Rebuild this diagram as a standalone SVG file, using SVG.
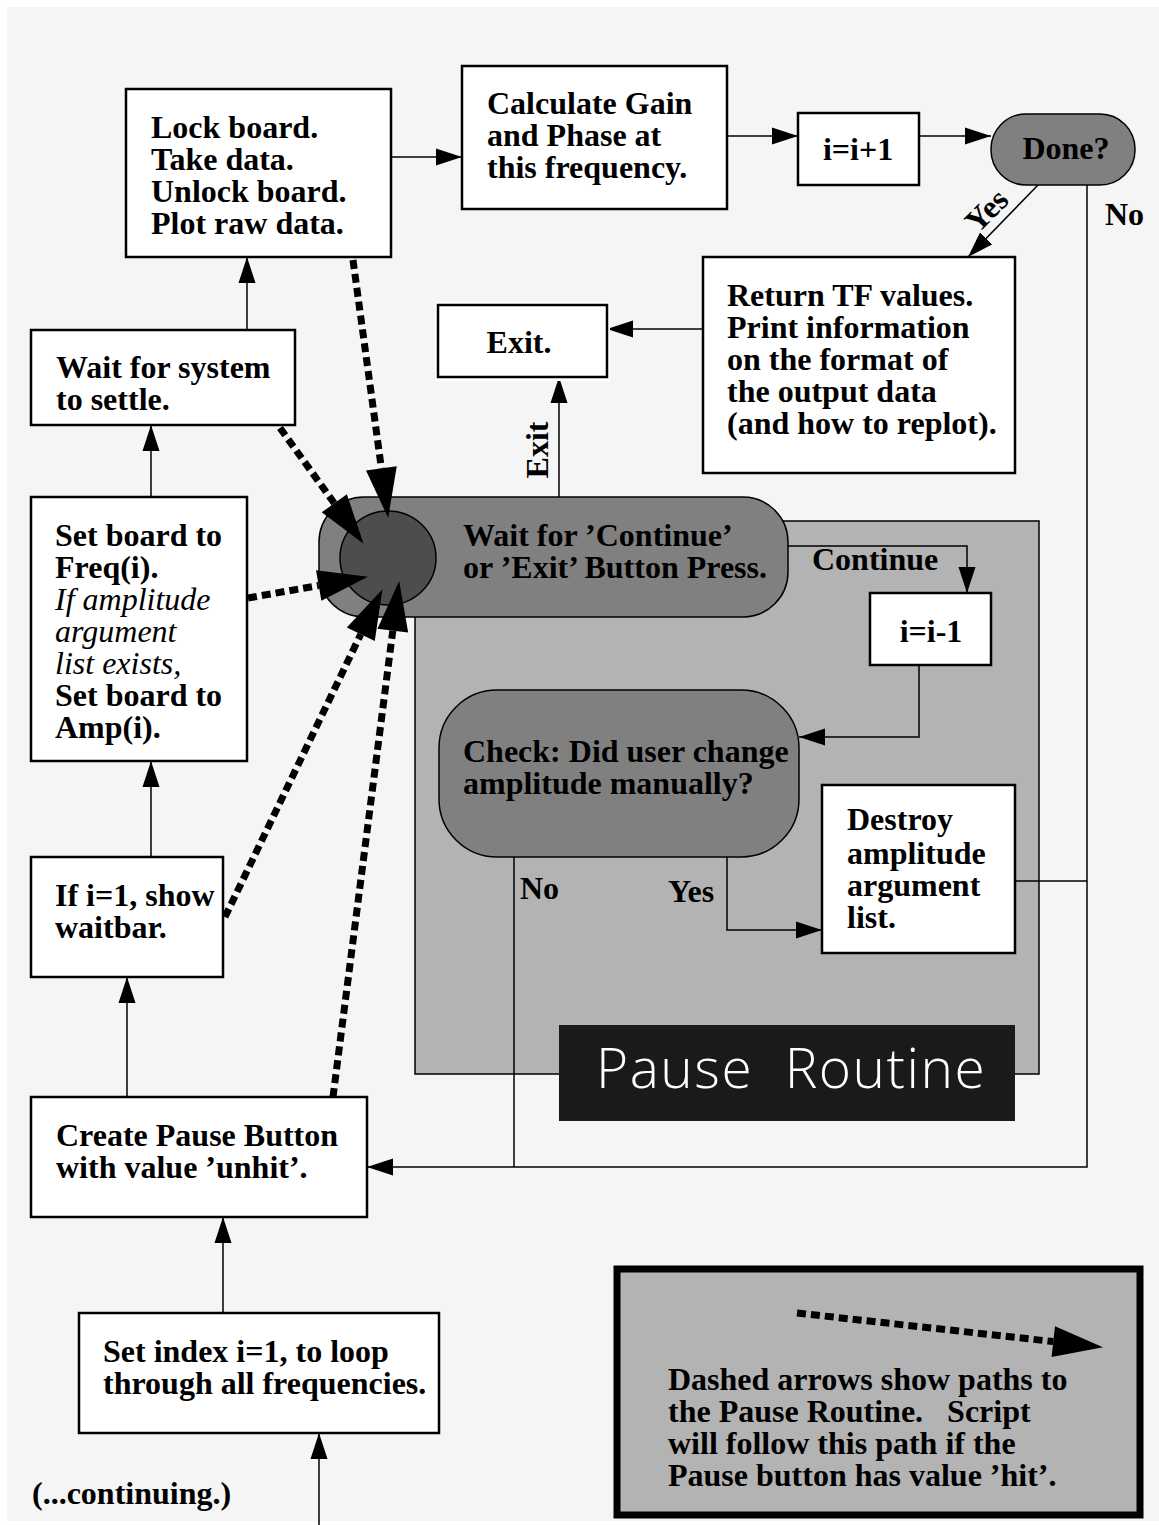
<svg xmlns="http://www.w3.org/2000/svg" width="1159" height="1525" viewBox="0 0 1159 1525">
<style>
text{font-family:"Liberation Serif","Times New Roman",serif;font-size:32px;font-weight:bold;fill:#000}
.it{font-style:italic;font-weight:normal}
.box{fill:#fff;stroke:#000;stroke-width:2.5}
.term{fill:#808080;stroke:#000;stroke-width:1.5}
.ln{fill:none;stroke:#000;stroke-width:1.5}
.dash{fill:none;stroke:#000;stroke-width:7;stroke-dasharray:9 5}
.mid{text-anchor:middle}
</style>
<defs>
<marker id="arr" viewBox="0 -9 26 18" markerWidth="26" markerHeight="18" refX="26" refY="0" orient="auto" markerUnits="userSpaceOnUse"><path d="M0,-8.5 L26,0 L0,8.5 z" fill="#000"/></marker>
<marker id="big" viewBox="0 -16 50 32" markerWidth="50" markerHeight="32" refX="0" refY="0" orient="auto" markerUnits="userSpaceOnUse" overflow="visible"><path d="M0,-15.5 L50,0 L0,15.5 z" fill="#000"/></marker>
</defs>
<rect x="7" y="7" width="1152" height="1514" fill="#f5f5f5"/>

<g id="pause-region">
<rect x="415" y="521" width="624" height="553" fill="#b3b3b3" stroke="#000" stroke-width="1.5"/>
</g>
<g id="pause-label">
<rect x="559" y="1025" width="456" height="96" fill="#1a1a1a"/>
<text x="596" y="1088" xml:space="preserve" style="font-family:'Open Sans','Noto Sans',sans-serif;font-weight:300;font-size:55px;letter-spacing:1.5px;fill:#fff">Pause  Routine</text>
</g>

<g id="connectors">
<path class="ln" d="M391,157 H462" marker-end="url(#arr)"/>
<path class="ln" d="M727,136 H798" marker-end="url(#arr)"/>
<path class="ln" d="M919,136 H991" marker-end="url(#arr)"/>
<path class="ln" d="M1038,185 L968,257" marker-end="url(#arr)"/>
<path class="ln" d="M703,329 H607" marker-end="url(#arr)"/>
<path class="ln" d="M559,497 V377" marker-end="url(#arr)"/>
<path class="ln" d="M788,546 H967 V593" marker-end="url(#arr)"/>
<path class="ln" d="M919,665 V737 H799" marker-end="url(#arr)"/>
<path class="ln" d="M727,857 V930 H822" marker-end="url(#arr)"/>
<path class="ln" d="M514,857 V1167"/>
<path class="ln" d="M1015,881 H1087"/>
<path class="ln" d="M1087,185 V1167 H367" marker-end="url(#arr)"/>
<path class="ln" d="M247,330 V257" marker-end="url(#arr)"/>
<path class="ln" d="M151,497 V425" marker-end="url(#arr)"/>
<path class="ln" d="M151,857 V761" marker-end="url(#arr)"/>
<path class="ln" d="M127,1097 V977" marker-end="url(#arr)"/>
<path class="ln" d="M223,1313 V1217" marker-end="url(#arr)"/>
<path class="ln" d="M319,1525 V1433" marker-end="url(#arr)"/>
<text x="0" y="0" transform="translate(994,218) rotate(-45)" class="mid">Yes</text>
<text x="1105" y="225">No</text>
<text x="0" y="0" transform="translate(548,450) rotate(-90)" class="mid">Exit</text>
<text x="812" y="570">Continue</text>
<text x="520" y="899">No</text>
<text x="668" y="902">Yes</text>
</g>

<g id="wait-button">
<rect x="319" y="497" width="469" height="120" rx="45" ry="45" class="term"/>
<ellipse cx="388" cy="558" rx="48" ry="47" fill="#4d4d4d" stroke="#000" stroke-width="1.5"/>
<text x="463" y="546">Wait for ’Continue’</text>
<text x="463" y="578">or ’Exit’ Button Press.</text>
</g>

<g id="dashed-arrows">
<path class="dash" d="M353,260 L381.4,468.4" marker-end="url(#big)"/>
<path class="dash" d="M280,428 L334.3,503.3" marker-end="url(#big)"/>
<path class="dash" d="M248,598 L318.7,585.5" marker-end="url(#big)"/>
<path class="dash" d="M225,917 L360.8,634.2" marker-end="url(#big)"/>
<path class="dash" d="M333,1097 L392.8,630.6" marker-end="url(#big)"/>
</g>

<g id="lock-board">
<rect x="126" y="89" width="265" height="168" class="box"/>
<text x="151" y="138">Lock board.</text>
<text x="151" y="170">Take data.</text>
<text x="151" y="202">Unlock board.</text>
<text x="151" y="234">Plot raw data.</text>
</g>
<g id="calc-gain">
<rect x="462" y="66" width="265" height="143" class="box"/>
<text x="487" y="114">Calculate Gain</text>
<text x="487" y="146">and Phase at</text>
<text x="487" y="178">this frequency.</text>
</g>
<g id="incr">
<rect x="798" y="113" width="121" height="72" class="box"/>
<text x="858" y="160" class="mid">i=i+1</text>
</g>
<g id="done">
<rect x="991" y="114" width="144" height="71" rx="35" ry="35" class="term"/>
<text x="1066" y="159" class="mid">Done?</text>
</g>
<g id="return-tf">
<rect x="703" y="257" width="312" height="216" class="box"/>
<text x="727" y="306">Return TF values.</text>
<text x="727" y="338">Print information</text>
<text x="727" y="370">on the format of</text>
<text x="727" y="402">the output data</text>
<text x="727" y="434">(and how to replot).</text>
</g>
<g id="exit">
<rect x="435" y="302" width="175" height="79" fill="#fff"/>
<rect x="438" y="305" width="169" height="72" class="box"/>
<text x="519" y="353" class="mid">Exit.</text>
</g>
<g id="wait-system">
<rect x="31" y="330" width="264" height="95" class="box"/>
<text x="56" y="378">Wait for system</text>
<text x="56" y="410">to settle.</text>
</g>
<g id="set-board">
<rect x="31" y="497" width="216" height="264" class="box"/>
<text x="55" y="546">Set board to</text>
<text x="55" y="578">Freq(i).</text>
<text x="55" y="610" class="it">If amplitude</text>
<text x="55" y="642" class="it">argument</text>
<text x="55" y="674" class="it">list exists,</text>
<text x="55" y="706">Set board to</text>
<text x="55" y="738">Amp(i).</text>
</g>
<g id="show-waitbar">
<rect x="31" y="857" width="192" height="120" class="box"/>
<text x="55" y="906">If i=1, show</text>
<text x="55" y="938">waitbar.</text>
</g>
<g id="create-pause">
<rect x="31" y="1097" width="336" height="120" class="box"/>
<text x="56" y="1146">Create Pause Button</text>
<text x="56" y="1178">with value ’unhit’.</text>
</g>
<g id="set-index">
<rect x="79" y="1313" width="360" height="120" class="box"/>
<text x="103" y="1362">Set index i=1, to loop</text>
<text x="103" y="1394">through all frequencies.</text>
</g>
<g id="decr">
<rect x="870" y="593" width="121" height="72" class="box"/>
<text x="931" y="642" class="mid">i=i-1</text>
</g>
<g id="check">
<rect x="439" y="690" width="360" height="167" rx="58" ry="58" class="term"/>
<text x="463" y="762">Check: Did user change</text>
<text x="463" y="794">amplitude manually?</text>
</g>
<g id="destroy">
<rect x="822" y="785" width="193" height="168" class="box"/>
<text x="847" y="830">Destroy</text>
<text x="847" y="864">amplitude</text>
<text x="847" y="896">argument</text>
<text x="847" y="928">list.</text>
</g>
<text x="32" y="1504">(...continuing.)</text>

<g id="legend">
<rect x="617" y="1269" width="523" height="246" fill="#b3b3b3" stroke="#000" stroke-width="7"/>
<path class="dash" d="M797,1313 L1053.3,1341.6" marker-end="url(#big)"/>
<text x="668" y="1390">Dashed arrows show paths to</text>
<text x="668" y="1422" xml:space="preserve">the Pause Routine.   Script</text>
<text x="668" y="1454">will follow this path if the</text>
<text x="668" y="1486">Pause button has value ’hit’.</text>
</g>
</svg>
